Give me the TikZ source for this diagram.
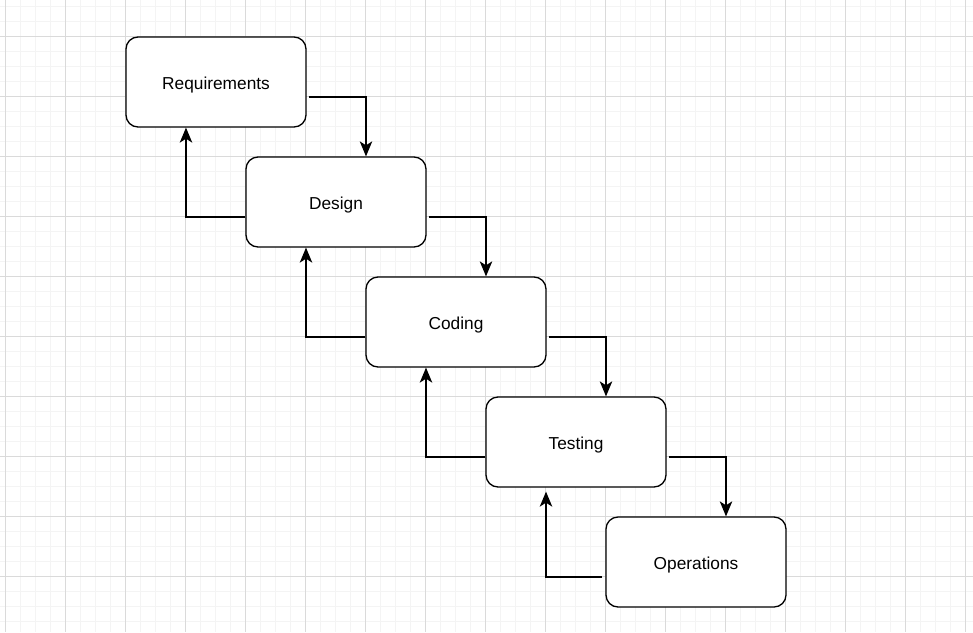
\documentclass[tikz,border=0pt]{standalone}
\usepackage{fontspec}
\setmainfont{Liberation Sans}
\usepackage{tikz}
\usetikzlibrary{arrows.meta}
\newcommand{\etiq}[1]{\raisebox{-3pt}[\height][\depth]{#1}}
\definecolor{rejillafina}{HTML}{F4F4F4}
\definecolor{rejillagruesa}{HTML}{DADADA}
\tikzstyle{etapa} = [draw=black, fill=white, line width=1.3pt, rectangle, rounded corners=12pt, minimum width=180pt, minimum height=90pt, font=\fontsize{17.3}{20}\selectfont]
\tikzstyle{flecha} = [draw=black, line width=1.3pt, -{Stealth[length=15pt,width=12.5pt,inset=4pt]}]
\tikzstyle{finas} = [draw=rejillafina, line width=1pt]
\tikzstyle{gruesas} = [draw=rejillagruesa, line width=1pt]

\begin{document}
\begin{tikzpicture}[x=1pt,y=-1pt]
	\useasboundingbox[fill=white] (0,0) rectangle (973,632);
	% rejilla de fondo
	\foreach \x in {5,20,...,970} \draw[finas] (\x,0) -- (\x,632);
	\foreach \y in {6,21,...,630} \draw[finas] (0,\y) -- (973,\y);
	\foreach \x in {5,65,...,970} \draw[gruesas] (\x,0) -- (\x,632);
	\foreach \y in {36,96,...,630} \draw[gruesas] (0,\y) -- (973,\y);
	% etapas
	\node[etapa](requisitos) at (216,82) {\etiq{Requirements}};
	\node[etapa](diseno) at (336,202) {\etiq{Design}};
	\node[etapa](codigo) at (456,322) {\etiq{Coding}};
	\node[etapa](pruebas) at (576,442) {\etiq{Testing}};
	\node[etapa](operacion) at (696,562) {\etiq{Operations}};
	% hacia abajo
	\draw[flecha] ([xshift=2pt,yshift=-15pt]requisitos.east) -| ([xshift=30pt]diseno.north);
	\draw[flecha] ([xshift=2pt,yshift=-15pt]diseno.east) -| ([xshift=30pt]codigo.north);
	\draw[flecha] ([xshift=2pt,yshift=-15pt]codigo.east) -| ([xshift=30pt]pruebas.north);
	\draw[flecha] ([xshift=2pt,yshift=-15pt]pruebas.east) -| ([xshift=30pt]operacion.north);
	% hacia arriba
	\draw[flecha] ([yshift=-15pt]diseno.west) -| ([xshift=-30pt]requisitos.south);
	\draw[flecha] ([yshift=-15pt]codigo.west) -| ([xshift=-30pt]diseno.south);
	\draw[flecha] ([yshift=-15pt]pruebas.west) -| ([xshift=-30pt]codigo.south);
	\draw[flecha] ([xshift=-3pt,yshift=-15pt]operacion.west) -| ([xshift=-30pt,yshift=-4pt]pruebas.south);
\end{tikzpicture}
\end{document}
